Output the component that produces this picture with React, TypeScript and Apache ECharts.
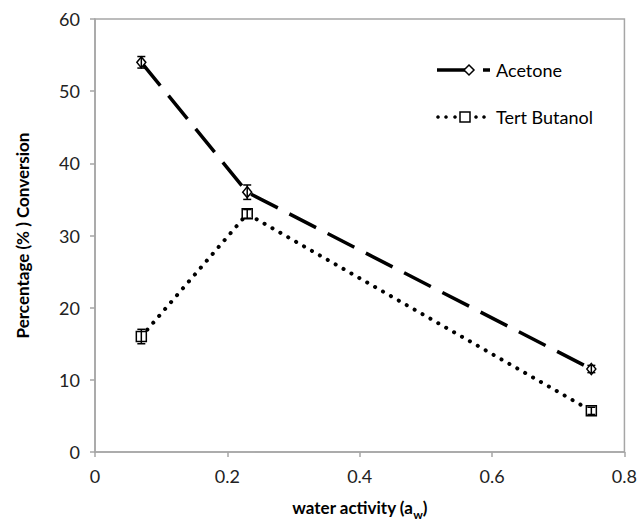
import React, { useEffect, useRef } from "react";
import * as echarts from "echarts";

const waterActivity = [0.07, 0.23, 0.75];
const acetone = [54, 36, 11.5];
const acetoneErr = [0.8, 1.0, 0.5];
const tertButanol = [16, 33, 5.7];
const tertButanolErr = [1.0, 0.6, 0.5];
const xTicks = [0, 0.2, 0.4, 0.6, 0.8];
const yTicks = [0, 10, 20, 30, 40, 50, 60];

const FONT = "Lato";

function errData(vals: number[], errs: number[]) {
  return waterActivity.map((x, i) => [x, vals[i] - errs[i], vals[i] + errs[i]]);
}

function errSeries(vals: number[], errs: number[]) {
  return {
    type: "custom",
    silent: true,
    z: 5,
    data: errData(vals, errs),
    renderItem: (params: any, api: any) => {
      const x = api.value(0);
      const lo = api.coord([x, api.value(1)]);
      const hi = api.coord([x, api.value(2)]);
      const w = 4;
      const style = { stroke: "#000", lineWidth: 1.5 };
      return {
        type: "group",
        children: [
          { type: "line", shape: { x1: lo[0], y1: lo[1], x2: hi[0], y2: hi[1] }, style },
          { type: "line", shape: { x1: lo[0] - w, y1: lo[1], x2: lo[0] + w, y2: lo[1] }, style },
          { type: "line", shape: { x1: hi[0] - w, y1: hi[1], x2: hi[0] + w, y2: hi[1] }, style },
        ],
      };
    },
  };
}

export default function App() {
  const ref = useRef<HTMLDivElement>(null);
  useEffect(() => {
    if (!ref.current) return;
    const chart = echarts.init(ref.current, undefined, { renderer: "svg" });
    chart.setOption({
      animation: false,
      backgroundColor: "#fff",
      textStyle: { fontFamily: FONT },
      grid: {
        left: 95,
        right: 14,
        top: 19,
        bottom: 67,
        show: true,
        borderColor: "#a6a6a6",
        borderWidth: 1.5,
        containLabel: false,
      },
      xAxis: {
        type: "value",
        min: 0,
        max: 0.8,
        interval: 0.2,
        name: "{b|water activity (a}{s|w}{b|)}",
        nameLocation: "middle",
        nameGap: 44,
        nameTextStyle: {
          rich: {
            b: { fontFamily: FONT, fontSize: 17, fontWeight: "bold", color: "#000", lineHeight: 20, verticalAlign: "bottom" },
            s: { fontFamily: FONT, fontSize: 12, fontWeight: "bold", color: "#000", lineHeight: 14, verticalAlign: "bottom", padding: [0, 0, -4, 0] },
          },
        },
        axisLine: { show: true, lineStyle: { color: "#a6a6a6", width: 1.5 } },
        axisTick: { show: true, inside: false, length: 5, lineStyle: { color: "#a6a6a6", width: 1.5 } },
        axisLabel: {
          margin: 15,
          fontSize: 18,
          color: "#222",
          fontFamily: FONT,
          formatter: (v: number) => (xTicks.includes(Math.round(v * 10) / 10) ? String(Math.round(v * 10) / 10) : ""),
        },
        splitLine: { show: false },
      },
      yAxis: {
        type: "value",
        min: 0,
        max: 60,
        interval: 10,
        name: "Percentage (% ) Conversion",
        nameLocation: "middle",
        nameGap: 64,
        nameRotate: 90,
        nameTextStyle: { fontFamily: FONT, fontSize: 17, fontWeight: "bold", color: "#000" },
        axisLine: { show: true, lineStyle: { color: "#a6a6a6", width: 1.5 } },
        axisTick: { show: true, inside: false, length: 5, lineStyle: { color: "#a6a6a6", width: 1.5 } },
        axisLabel: {
          margin: 15,
          fontSize: 18,
          color: "#222",
          fontFamily: FONT,
          formatter: (v: number) => (yTicks.includes(v) ? String(v) : ""),
        },
        splitLine: { show: false },
      },
      series: [
        {
          name: "Acetone",
          type: "line",
          data: waterActivity.map((x, i) => [x, acetone[i]]),
          symbol: "diamond",
          symbolSize: [9, 11],
          itemStyle: { color: "#fff", borderColor: "#000", borderWidth: 1.5 },
          lineStyle: { color: "#000", width: 3.5, type: [30, 13] },
          z: 3,
        },
        {
          name: "Tert Butanol",
          type: "line",
          data: waterActivity.map((x, i) => [x, tertButanol[i]]),
          symbol: "rect",
          symbolSize: 10,
          itemStyle: { color: "#fff", borderColor: "#000", borderWidth: 1.5 },
          lineStyle: { color: "#000", width: 4, type: [0.1, 9], cap: "round" },
          z: 3,
        },
        errSeries(acetone, acetoneErr),
        errSeries(tertButanol, tertButanolErr),
      ],
      graphic: [
        { type: "line", shape: { x1: 437, y1: 70, x2: 466, y2: 70 }, style: { stroke: "#000", lineWidth: 3.5 } },
        { type: "line", shape: { x1: 483, y1: 70, x2: 490, y2: 70 }, style: { stroke: "#000", lineWidth: 3.5 } },
        { type: "polygon", shape: { points: [[469, 65], [474, 70], [469, 75], [464, 70]] }, style: { fill: "#fff", stroke: "#000", lineWidth: 1.5 } },
        { type: "text", x: 496, y: 70, style: { text: "Acetone", fontFamily: FONT, fontSize: 18, fill: "#000", verticalAlign: "middle" } },
        { type: "circle", shape: { cx: 438, cy: 117, r: 1.8 }, style: { fill: "#000" } },
        { type: "circle", shape: { cx: 446, cy: 117, r: 1.8 }, style: { fill: "#000" } },
        { type: "circle", shape: { cx: 455, cy: 117, r: 1.8 }, style: { fill: "#000" } },
        { type: "circle", shape: { cx: 476, cy: 117, r: 1.8 }, style: { fill: "#000" } },
        { type: "circle", shape: { cx: 484, cy: 117, r: 1.8 }, style: { fill: "#000" } },
        { type: "rect", shape: { x: 460, y: 112, width: 10, height: 10 }, style: { fill: "#fff", stroke: "#000", lineWidth: 1.5 } },
        { type: "text", x: 496, y: 117, style: { text: "Tert Butanol", fontFamily: FONT, fontSize: 18, fill: "#000", verticalAlign: "middle" } },
      ],
    });
    return () => chart.dispose();
  }, []);
  return <div ref={ref} style={{ width: 640, height: 525, position: "absolute", left: 0, top: 0 }} />;
}
